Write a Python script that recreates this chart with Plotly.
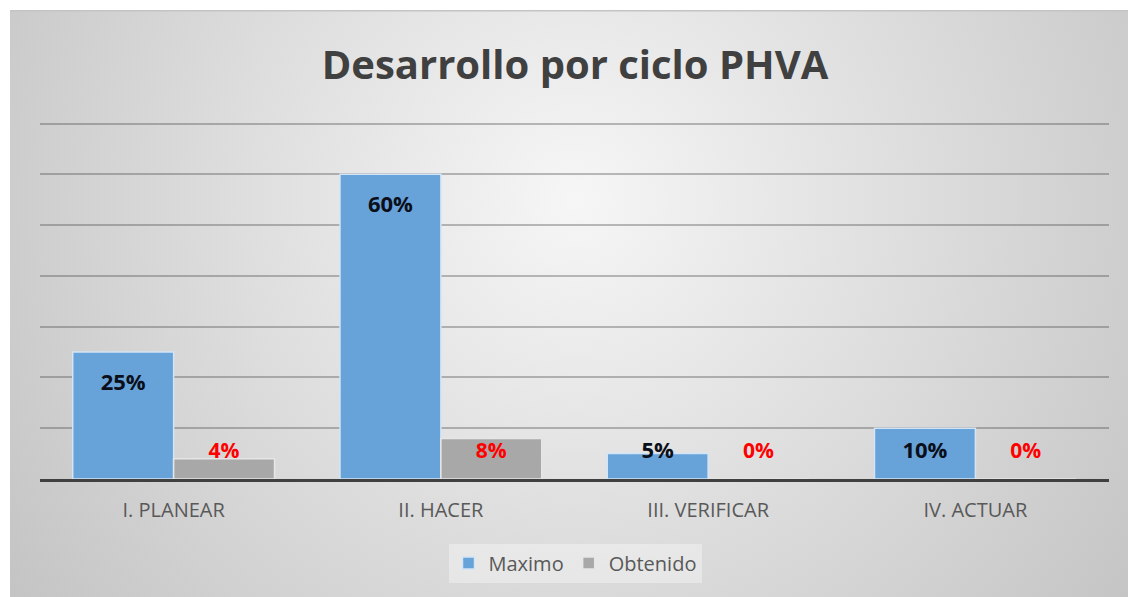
import base64
import plotly.graph_objects as go

categories = ["I. PLANEAR", "II. HACER", "III. VERIFICAR", "IV. ACTUAR"]
maximo = [0.25, 0.60, 0.05, 0.10]
obtenido = [0.04, 0.08, 0.00, 0.00]
title_text = "Desarrollo por ciclo PHVA"

W, H = 1128, 597
ML, MR, MT, MB = 40, 19, 121, 118
PW, PH = W - ML - MR, H - MT - MB

BLUE = "#67a2d8"
GRAY = "#a8a8a8"
FONT = "Open Sans"


def label_pos(vals):
    return [max(v - 0.063, 0.052) for v in vals]


fig = go.Figure()
fig.add_trace(go.Bar(x=categories, y=maximo, name="Maximo", offsetgroup="a",
                     marker=dict(color=BLUE, line=dict(color="#d3e5f5", width=1.5)),
                     hoverinfo="skip"))
fig.add_trace(go.Bar(x=categories, y=obtenido, name="Obtenido", offsetgroup="b",
                     marker=dict(color=GRAY, line=dict(color="#e6e6e6", width=1.5)),
                     hoverinfo="skip"))
fig.add_trace(go.Scatter(x=categories, y=label_pos(maximo), mode="text", offsetgroup="a",
                         text=[f"{v:.0%}" for v in maximo], showlegend=False,
                         textfont=dict(family=FONT, size=22, color="#0b0f1a", weight="bold"),
                         hoverinfo="skip"))
fig.add_trace(go.Scatter(x=categories, y=label_pos(obtenido), mode="text", offsetgroup="b",
                         text=[f"{v:.0%}" for v in obtenido], showlegend=False,
                         textfont=dict(family=FONT, size=21, color="#ff0000", weight="bold"),
                         hoverinfo="skip"))

svg = (
    "<svg xmlns='http://www.w3.org/2000/svg' width='1118' height='587'>"
    "<defs><radialGradient id='g' gradientUnits='userSpaceOnUse' cx='565' cy='190' r='690'>"
    "<stop offset='0' stop-color='#f6f6f6'/><stop offset='1' stop-color='#c4c4c4'/>"
    "</radialGradient></defs>"
    "<rect width='1118' height='587' fill='url(#g)'/>"
    "<rect x='0' y='0' width='1118' height='1.5' fill='#c4c4c4'/>"
    "</svg>"
)
src = "data:image/svg+xml;base64," + base64.b64encode(svg.encode()).decode()

x0 = (10 - ML) / PW
y0 = (H - MB - 10) / PH
fig.add_layout_image(dict(source=src, xref="paper", yref="paper", x=x0, y=y0,
                          sizex=(W - 10) / PW, sizey=(H - 10) / PH,
                          xanchor="left", yanchor="top", sizing="stretch", layer="below"))

fig.update_layout(
    width=W, height=H,
    margin=dict(l=ML, r=MR, t=MT, b=MB),
    paper_bgcolor="white", plot_bgcolor="rgba(0,0,0,0)",
    barmode="group", bargap=0.245, bargroupgap=0,
    scattermode="group", scattergap=0.245,
    title=dict(text=title_text, x=(575 - ML) / PW, xref="paper", xanchor="center",
               y=(H - 65) / H, yanchor="middle",
               font=dict(family=FONT, size=40, color="#404040", weight="bold")),
    showlegend=True,
    legend=dict(orientation="h", x=(575 - ML) / PW, xanchor="center",
                y=(H - MB - 563) / PH, yanchor="middle",
                bgcolor="rgba(255,255,255,0.35)",
                font=dict(family=FONT, size=20, color="#595959"),
                itemwidth=30, tracegroupgap=0),
    font=dict(family=FONT),
)
fig.update_xaxes(showline=True, linecolor="#404040", linewidth=2.5,
                 ticks="outside", ticklen=11, tickcolor="rgba(0,0,0,0)",
                 tickfont=dict(family=FONT, size=20, color="#595959"),
                 showgrid=False)
fig.update_yaxes(range=[0, 0.705], dtick=0.1, showticklabels=False, zeroline=False,
                 showgrid=True, gridcolor="rgba(70,70,70,0.35)", gridwidth=1.6)

fig.write_html("out.html", config={"displayModeBar": False},
               post_script="document.body.style.margin='0';")
